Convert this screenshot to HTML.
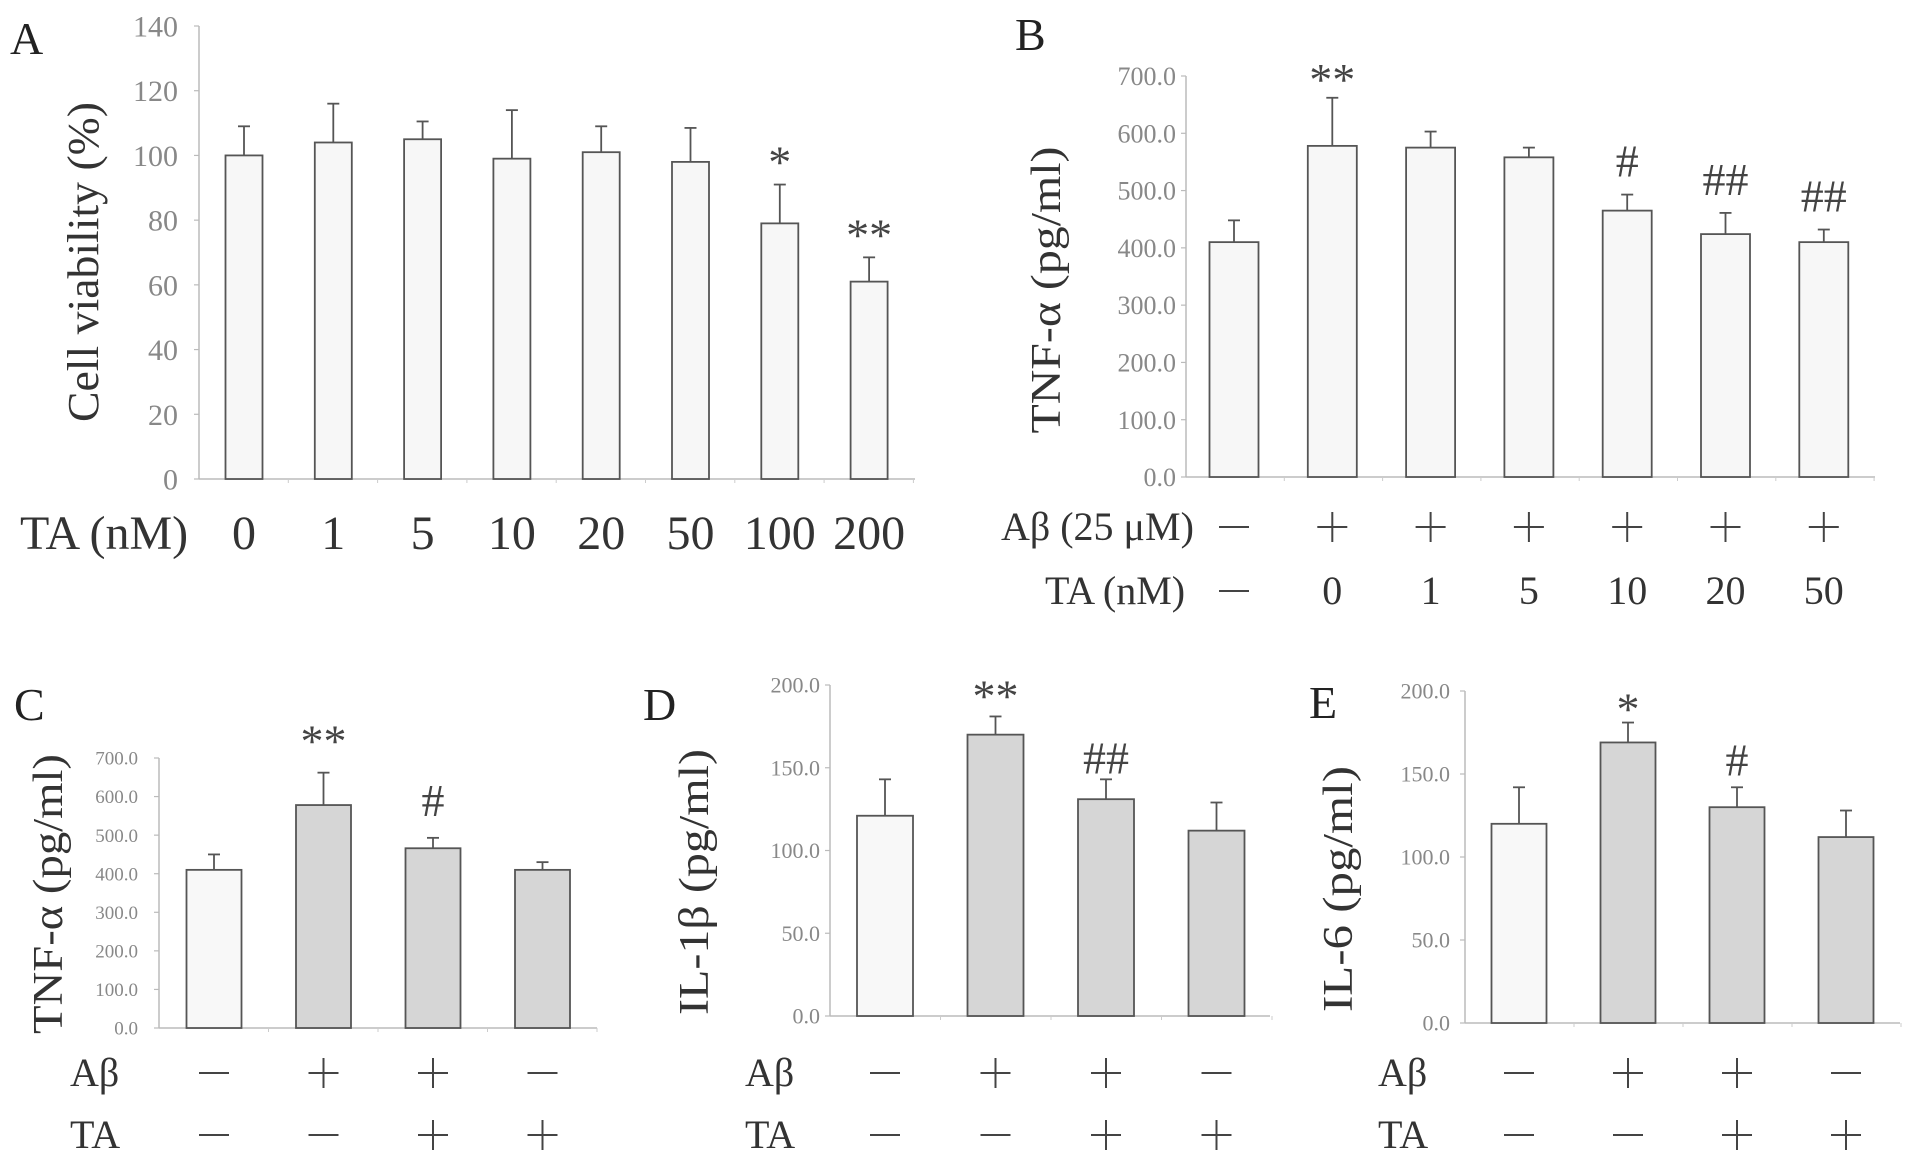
<!DOCTYPE html>
<html><head><meta charset="utf-8"><style>
html,body{margin:0;padding:0;background:#fff;}
svg{display:block;font-family:"Liberation Serif","DejaVu Serif",serif;}
</style></head><body>
<svg id="fig" width="1913" height="1166" viewBox="0 0 1913 1166"></svg>
<script>
// ---- Panel A data ----
const aCategories = ["0","1","5","10","20","50","100","200"];
const aValues = [100,104,105,99,101,98,79,61];
const aErrors = [9,12,5.5,15,8,10.5,12,7.5];
const aMarks = ["","","","","","","*","**"];
const aTicks = [0,20,40,60,80,100,120,140];
// ---- Panel B data ----
const bAbeta = ["-","+","+","+","+","+","+"];
const bTA = ["—","0","1","5","10","20","50"];
const bValues = [410,578,575,558,465,424,410];
const bErrors = [38,84,28,17,28,37,22];
const bMarks = ["","**","","","#","##","##"];
const bTicks = [0,100,200,300,400,500,600,700];
// ---- Panel C data ----
const cAbeta = ["-","+","+","-"];
const cTA = ["-","-","+","+"];
const cValues = [410,578,466,410];
const cErrors = [40,84,27,20];
const cMarks = ["","**","#",""];
const cTicks = [0,100,200,300,400,500,600,700];
// ---- Panel D data ----
const dValues = [121,170,131,112];
const dErrors = [22,11,12,17];
const dMarks = ["","**","##",""];
const dTicks = [0,50,100,150,200];
// ---- Panel E data ----
const eValues = [120,169,130,112];
const eErrors = [22,12,12,16];
const eMarks = ["","*","#",""];
const eTicks = [0,50,100,150,200];

const NS = "http://www.w3.org/2000/svg";
const svg = document.getElementById("fig");
function mk(tag, attrs, parent, txt){
  const e = document.createElementNS(NS, tag);
  for (const k in attrs) e.setAttribute(k, attrs[k]);
  if (txt !== undefined) e.textContent = txt;
  (parent || svg).appendChild(e);
  return e;
}
function sym(g, kind, x, y, s){
  const h = s/2;
  const l1 = mk("line",{x1:x-h,y1:y,x2:x+h,y2:y,stroke:"#444","stroke-width":2},g);
  
  
  if (kind === "+") {
    const l2 = mk("line",{x1:x,y1:y-h,x2:x,y2:y+h,stroke:"#444","stroke-width":2},g);
    
    
  }
}
function panel(p){
  const g = mk("g",{});
  
  
  const n = p.values.length;
  const yScale = v => p.y0 - (v - p.vmin) / (p.vmax - p.vmin) * (p.y0 - p.yTop);
  const xScale = i => p.xFirst + i * p.step;
  const ya = mk("line",{x1:p.ax,y1:p.yTop,x2:p.ax,y2:p.y0,stroke:"#bbb","stroke-width":1.5},g);
  
  
  const xa = mk("line",{x1:p.ax,y1:p.y0,x2:p.xEnd,y2:p.y0,stroke:"#bbb","stroke-width":1.5},g);
  
  
  for (let i=1;i<=n;i++){
    const tx = p.ax + i*p.step;
    const t = mk("line",{x1:tx,y1:p.y0,x2:tx,y2:p.y0+4,stroke:"#ccc","stroke-width":1},g);
    
    
  }
  p.ticks.forEach(v=>{
    const y = yScale(v);
    const t = mk("line",{x1:p.ax-5,y1:y,x2:p.ax,y2:y,stroke:"#bbb","stroke-width":1.2},g);
    
    
    const lab = mk("text",{x:p.tickRight,y:y+p.tickFont*0.35,"text-anchor":"end","font-size":p.tickFont,fill:"#888"},g, p.tickFmt(v));
    
    
  });
  for (let i=0;i<n;i++){
    const cx = xScale(i), top = yScale(p.values[i]);
    const fill = (p.fills ? p.fills[i] : "#f7f7f7");
    const r = mk("rect",{x:cx-p.bw/2,y:top,width:p.bw,height:p.y0-top,fill:fill,stroke:"#555","stroke-width":1.8},g);
    
    
    const et = yScale(p.values[i] + p.errors[i]);
    const e1 = mk("line",{x1:cx,y1:top,x2:cx,y2:et,stroke:"#555","stroke-width":1.8},g);
    
    
    const e2 = mk("line",{x1:cx-6,y1:et,x2:cx+6,y2:et,stroke:"#555","stroke-width":1.8},g);
    
    
    if (p.marks[i]) {
      const isStar = p.marks[i].indexOf("*") >= 0;
      const m = mk("text",{x:cx,y:et-(isStar?p.starGap:p.hashGap),"text-anchor":"middle","font-size":p.markFont,fill:"#444"},g,p.marks[i]);
      
      
    }
  }
  const L = mk("text",{x:p.letterX,y:p.letterY,"font-size":p.letterFont,fill:"#222"},g,p.id);
  
  
  const yt = mk("text",{x:0,y:0,"text-anchor":"middle","font-size":p.titleFont,fill:"#333",
    transform:`translate(${p.titleX},${p.titleY}) rotate(-90)`,textLength:p.titleLen,lengthAdjust:"spacingAndGlyphs"},g,p.title);
  
  
  p.rows.forEach(row=>{
    const rl = mk("text",{x:row.labelX,y:row.y+row.font*0.33,"font-size":row.font,fill:"#333"},g,row.label);
    
    
    row.items.forEach((it,i)=>{
      const cx = xScale(i);
      if (it === "+" || it === "-") sym(g, it, cx, row.y, row.sym);
      else if (it === "—") sym(g, "-", cx, row.y, row.sym);
      else {
        const t = mk("text",{x:cx,y:row.y+row.font*0.33,"text-anchor":"middle","font-size":row.font,fill:"#333"},g,it);
        
        
      }
    });
  });
}
const white = "#f8f8f8", grey = "#d6d6d6";
panel({id:"A",values:aValues,errors:aErrors,marks:aMarks,ticks:aTicks,vmin:0,vmax:140,
  ax:199,y0:479,yTop:26,xEnd:915,xFirst:244,step:89.3,bw:37,tickRight:178,tickFont:30,tickFmt:v=>String(v),
  markFont:46,starGap:7,hashGap:7,letterX:10,letterY:54,letterFont:46,title:"Cell viability (%)",titleX:98,titleY:262,titleFont:44,titleLen:320,
  rows:[{label:"TA (nM)",labelX:20,y:533,font:48,sym:30,items:aCategories}]});
panel({id:"B",values:bValues,errors:bErrors,marks:bMarks,ticks:bTicks,vmin:0,vmax:700,
  ax:1186,y0:477,yTop:76,xEnd:1875,xFirst:1234,step:98.3,bw:49,tickRight:1176,tickFont:26,tickFmt:v=>v.toFixed(1),
  markFont:46,starGap:3,hashGap:18,letterX:1015,letterY:50,letterFont:46,title:"TNF-α  (pg/ml)",titleX:1060,titleY:290,titleFont:42,titleLen:287,
  rows:[{label:"Aβ (25 μM)",labelX:1001,y:527,font:40,sym:30,items:bAbeta},
        {label:"TA (nM)",labelX:1045,y:591,font:40,sym:30,items:bTA}]});
panel({id:"C",values:cValues,errors:cErrors,marks:cMarks,ticks:cTicks,vmin:0,vmax:700,fills:[white,grey,grey,grey],
  ax:159,y0:1028,yTop:758,xEnd:597,xFirst:214,step:109.5,bw:55,tickRight:138,tickFont:19,tickFmt:v=>v.toFixed(1),
  markFont:46,starGap:16,hashGap:22,letterX:14,letterY:720,letterFont:46,title:"TNF-α  (pg/ml)",titleX:62,titleY:894,titleFont:42,titleLen:280,
  rows:[{label:"Aβ",labelX:70,y:1073,font:40,sym:30,items:cAbeta},{label:"TA",labelX:70,y:1135,font:40,sym:30,items:cTA}]});
panel({id:"D",values:dValues,errors:dErrors,marks:dMarks,ticks:dTicks,vmin:0,vmax:200,fills:[white,grey,grey,grey],
  ax:830,y0:1016,yTop:685,xEnd:1270,xFirst:885,step:110.5,bw:56,tickRight:820,tickFont:22,tickFmt:v=>v.toFixed(1),
  markFont:46,starGap:5,hashGap:6,letterX:643,letterY:720,letterFont:46,title:"IL-1β  (pg/ml)",titleX:708,titleY:882,titleFont:42,titleLen:266,
  rows:[{label:"Aβ",labelX:745,y:1073,font:40,sym:30,items:cAbeta},{label:"TA",labelX:745,y:1135,font:40,sym:30,items:cTA}]});
panel({id:"E",values:eValues,errors:eErrors,marks:eMarks,ticks:eTicks,vmin:0,vmax:200,fills:[white,grey,grey,grey],
  ax:1465,y0:1023,yTop:691,xEnd:1900,xFirst:1519,step:109,bw:55,tickRight:1450,tickFont:22,tickFmt:v=>v.toFixed(1),
  markFont:46,starGap:-2,hashGap:12,letterX:1309,letterY:718,letterFont:46,title:"IL-6  (pg/ml)",titleX:1352,titleY:889,titleFont:42,titleLen:246,
  rows:[{label:"Aβ",labelX:1378,y:1073,font:40,sym:30,items:cAbeta},{label:"TA",labelX:1378,y:1135,font:40,sym:30,items:cTA}]});
</script>
</body></html>
